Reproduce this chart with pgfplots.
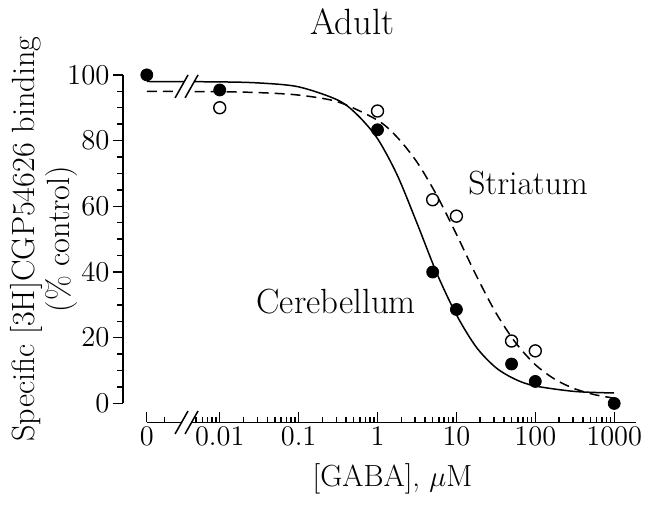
\documentclass[border=0pt]{standalone}
\usepackage{pgfplots}
\pgfplotsset{compat=1.18}
% break mark: two parallel slashes with a white gap between them
% #1 = point in axis cs, #2 = extra vertical offset
\newcommand{\brk}[2]{%
  \fill[white] ([shift={(-5.75pt,-5.75pt+#2)}]#1) -- ([shift={(-0.75pt,-5.75pt+#2)}]#1)
    -- ([shift={(5.75pt,5.75pt+#2)}]#1) -- ([shift={(0.75pt,5.75pt+#2)}]#1) -- cycle;
  \draw[line width=0.75pt] ([shift={(-5.75pt,-5.75pt+#2)}]#1) -- ([shift={(0.75pt,5.75pt+#2)}]#1);
  \draw[line width=0.75pt] ([shift={(-0.75pt,-5.75pt+#2)}]#1) -- ([shift={(5.75pt,5.75pt+#2)}]#1);
}
\begin{document}
\begin{tikzpicture}
\begin{axis}[
    scale only axis,
    width=245pt,
    height=164.5pt,
    xmode=log,
    xmin=0.00119, xmax=1897,
    ymin=0, ymax=100,
    axis x line*=bottom,
    axis y line*=left,
    axis x line shift=9.5pt,
    axis y line shift=12pt,
    xtick={0.00119,0.01,0.1,1,10,100,1000},
    xticklabels={0,0.01,0.1,1,10,100,1000},
    minor xtick={0.002,0.005,0.006,0.007,0.008,0.009,
      0.02,0.03,0.04,0.05,0.06,0.07,0.08,0.09,
      0.2,0.3,0.4,0.5,0.6,0.7,0.8,0.9,
      2,3,4,5,6,7,8,9,20,30,40,50,60,70,80,90,
      200,300,400,500,600,700,800,900},
    ytick={0,20,40,60,80,100},
    minor ytick={5,10,15,25,30,35,45,50,55,65,70,75,85,90,95},
    xtick align=inside,
    ytick align=outside,
    major tick length=5pt,
    minor tick length=2.8pt,
    tick style={black, line width=0.7pt},
    axis line style={line width=0.75pt},
    ticklabel style={font=\fontsize{14.2}{16}\selectfont},
    xticklabel style={inner sep=2pt},
    yticklabel style={inner sep=1.5pt},
    xlabel={[GABA], $\mu$M},
    ylabel={Specific [3H]CGP54626 binding\\(\% control)},
    xlabel style={font=\fontsize{15.3}{17}\selectfont,
      at={([yshift=-41.5pt]rel axis cs:0.502,0)}, anchor=base},
    ylabel style={font=\fontsize{16.1}{15}\selectfont, align=center,
      at={([xshift=-51.5pt]rel axis cs:0,0.5)}, anchor=center},
    clip=false,
]
% fitted curves
\addplot[black, line width=0.75pt, smooth] coordinates {
  (0.00119,97.99) (0.01,97.87) (0.0316,97.54) (0.1,96.36) (0.316,92.3)
  (0.562,87.7) (1,80.6) (1.778,69.5) (3.162,54.9) (5.623,39.7)
  (10,27.0) (17.78,17.2) (31.62,10.9) (56.23,7.30) (100,5.31)
  (316.2,3.65) (1000,3.18)};
\addplot[black, line width=0.75pt, smooth, dash pattern=on 5pt off 3pt] coordinates {
  (0.00119,94.98) (0.01,94.86) (0.0316,94.6) (0.1,93.85) (0.316,91.77)
  (1,86.2) (1.778,81.0) (3.162,73.46) (5.623,63.4) (10,51.5)
  (17.78,39.0) (31.62,27.6) (56.23,18.5) (100,11.8) (177.8,7.33)
  (316.2,4.46) (562.3,2.68) (1000,1.6)};
% cerebellum
\addplot[only marks, mark=*, mark size=3pt, mark options={fill=black, draw=black}] coordinates {
  (0.00119,100) (0.01,95.4) (1,83.3) (5,40) (10,28.6) (50,12) (100,6.7) (1000,0)};
% striatum
\addplot[only marks, mark=o, mark size=3pt, mark options={fill=white, draw=black, line width=0.7pt}] coordinates {
  (0.01,90) (1,89) (5,62) (10,57) (50,19) (100,16)};
\brk{axis cs:0.0038,96.5}{0pt}
\brk{axis cs:0.0038,0}{-9.5pt}
\node[font=\fontsize{18.3}{20}\selectfont] at ([yshift=26.5pt]rel axis cs:0.42,1) {Adult};
\node[font=\fontsize{16.8}{19}\selectfont] at (axis cs:81,67.2) {Striatum};
\node[font=\fontsize{17.5}{19}\selectfont] at (axis cs:0.3,31) {Cerebellum};
\path ([shift={(-73.5pt,-51pt)}]rel axis cs:0,0) rectangle ([shift={(4.5pt,37.5pt)}]rel axis cs:1,1);
\end{axis}
\end{tikzpicture}
\end{document}
